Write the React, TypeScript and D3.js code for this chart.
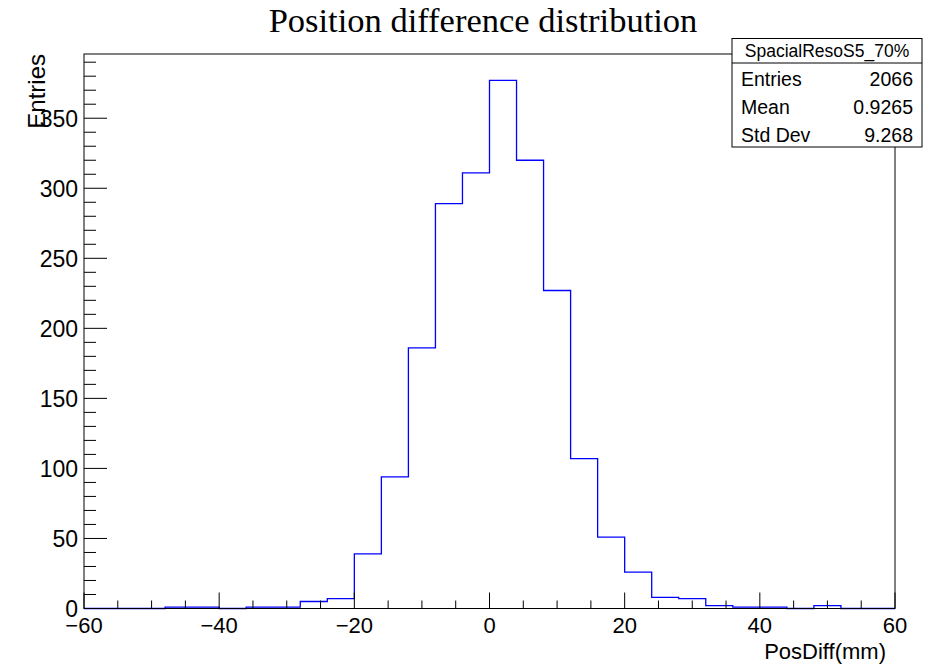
import React from "react";
import * as d3 from "d3";

const binEdgesStart = -60;
const binWidth = 4;
const counts = [0, 0, 0, 1, 1, 0, 1, 1, 5, 7, 39, 94, 186, 289, 311, 377, 320, 227, 107, 51, 26, 8, 7, 2, 1, 1, 0, 2, 0, 0];
const xTicksMajor = [-60, -40, -20, 0, 20, 40, 60];
const yTicksMajor = [0, 50, 100, 150, 200, 250, 300, 350];
const statsLabels = ["Entries", "Mean", "Std Dev"];
const statsValues = ["2066", "0.9265", "9.268"];
const histName = "SpacialResoS5_70%";
const title = "Position difference distribution";

export default function App() {
  const W = 930, H = 666;
  const left = 84, right = 895, top = 54, bottom = 608.5;
  const yMax = 377 * 1.05;
  const x = d3.scaleLinear().domain([-60, 60]).range([left, right]);
  const y = d3.scaleLinear().domain([0, yMax]).range([bottom, top]);

  const pts: [number, number][] = [];
  pts.push([binEdgesStart, 0]);
  counts.forEach((c, i) => {
    const x0 = binEdgesStart + i * binWidth;
    pts.push([x0, c]);
    pts.push([x0 + binWidth, c]);
  });
  pts.push([binEdgesStart + counts.length * binWidth, 0]);
  const line = d3.line<[number, number]>().x(d => x(d[0])).y(d => y(d[1]));

  const xMinor = d3.range(-60, 60.001, 5).filter(v => v % 20 !== 0);
  const yMinor = d3.range(0, yMax, 10).filter(v => v % 50 !== 0);
  const sans = "'Liberation Sans', Arial, Helvetica, sans-serif";
  const fmt = (v: number) => (v < 0 ? "\u2212" + Math.abs(v) : String(v));

  const sx0 = 732, sx1 = 922, sy0 = 38.5, sy1 = 147, sSep = 63;
  return (
    <svg width={W} height={H} style={{ position: "absolute", left: 0, top: 0, background: "#fff" }}>
      <rect x={0} y={0} width={W} height={H} fill="#fff" />
      <text x={483} y={32} textAnchor="middle" fontFamily="'Liberation Serif', 'Times New Roman', serif" fontSize={34.5}>{title}</text>
      <path d={line(pts) || ""} fill="none" stroke="#0000ff" strokeWidth={1.3} />
      {/* frame */}
      <rect x={left} y={top} width={right - left} height={bottom - top} fill="none" stroke="#000" strokeWidth={1} />
      {/* x ticks */}
      {xTicksMajor.map(v => (
        <g key={"xm" + v}>
          <line x1={x(v)} x2={x(v)} y1={bottom} y2={bottom - 16} stroke="#000" />
          <text x={x(v)} y={633} textAnchor="middle" fontFamily={sans} fontSize={22}>{fmt(v)}</text>
        </g>
      ))}
      {xMinor.map(v => (
        <line key={"xn" + v} x1={x(v)} x2={x(v)} y1={bottom} y2={bottom - 8} stroke="#000" />
      ))}
      {/* y ticks */}
      {yTicksMajor.map(v => (
        <g key={"ym" + v}>
          <line x1={left} x2={left + 23} y1={y(v)} y2={y(v)} stroke="#000" />
          <text x={78} y={y(v) + 8.5} textAnchor="end" fontFamily={sans} fontSize={23}>{v}</text>
        </g>
      ))}
      {yMinor.map(v => (
        <line key={"yn" + v} x1={left} x2={left + 12} y1={y(v)} y2={y(v)} stroke="#000" />
      ))}
      <text x={886} y={659} textAnchor="end" fontFamily={sans} fontSize={22}>PosDiff(mm)</text>
      <text transform={`translate(45, ${top}) rotate(-90)`} textAnchor="end" fontFamily={sans} fontSize={24}>Entries</text>
      {/* stats box */}
      <rect x={sx0} y={sy0} width={sx1 - sx0} height={sy1 - sy0} fill="#fff" stroke="#000" strokeWidth={1} />
      <line x1={sx0} x2={sx1} y1={sSep} y2={sSep} stroke="#000" />
      <text x={(sx0 + sx1) / 2} y={57} textAnchor="middle" fontFamily={sans} fontSize={17.5}>{histName}</text>
      {statsLabels.map((l, i) => (
        <g key={l}>
          <text x={741} y={86 + i * 28} fontFamily={sans} fontSize={19.5}>{l}</text>
          <text x={913} y={86 + i * 28} textAnchor="end" fontFamily={sans} fontSize={19.5}>{statsValues[i]}</text>
        </g>
      ))}
    </svg>
  );
}
